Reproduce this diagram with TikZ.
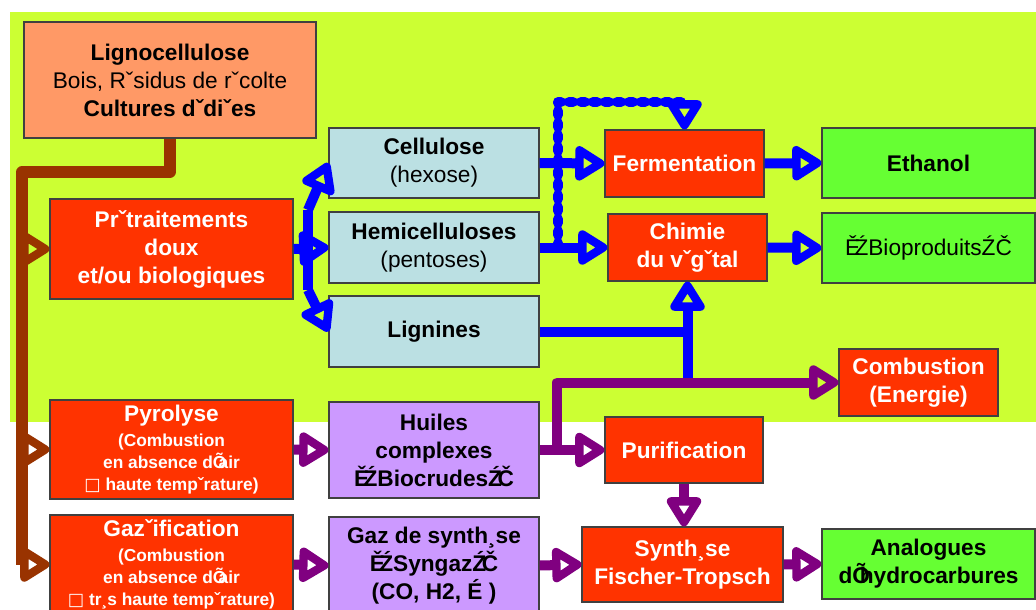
\documentclass[tikz,border=0pt]{standalone}
\usepackage{fontspec}
\setmainfont{Liberation Sans}
\newfontfamily\dejavu{DejaVu Sans}
\usetikzlibrary{arrows.meta}
\definecolor{bggreen}{HTML}{CCFF33}
\definecolor{lorange}{HTML}{FF9966}
\definecolor{boxred}{HTML}{FF3300}
\definecolor{lblue}{HTML}{BBE0E3}
\definecolor{lav}{HTML}{CC99FF}
\definecolor{boxgreen}{HTML}{66FF33}
\definecolor{lnblue}{HTML}{0000FF}
\definecolor{lnpurple}{HTML}{800080}
\definecolor{lnbrown}{HTML}{993300}
\newcommand\mybox[7]{\node[#6, minimum width={(#4-#2)*0.75pt}, minimum height={(#5-#3)*0.75pt}] (#1) at ({(#2+#4)/2},{(#3+#5)/2}) {#7};}
\newcommand\bigtxt{\fontsize{17}{21}\selectfont}
\tikzset{
  box/.style={draw=black!75, line width=0.9pt, inner sep=0pt, align=center, font=\fontsize{17}{21}\selectfont},
  redbox/.style={box, fill=boxred, text=white, font=\fontsize{17}{21}\selectfont\bfseries},
  smredbox/.style={box, fill=boxred, text=white, font=\fontsize{13}{16.5}\selectfont\bfseries},
  bluebox/.style={box, fill=lblue},
  lavbox/.style={box, fill=lav, font=\fontsize{17}{21}\selectfont\bfseries},
  grnbox/.style={box, fill=boxgreen},
  conn/.style={line width=7.5pt, line join=round},
  tipped/.style={-{Triangle[open, length=25pt, width=29pt, line width=7pt, round]}},
  blueln/.style={conn, draw=lnblue},
  purpln/.style={conn, draw=lnpurple},
  brownln/.style={conn, draw=lnbrown, line width=8.5pt},
  bluedot/.style={conn, draw=lnblue, line cap=round, dash pattern=on 3pt off 6pt}
}
\begin{document}
\begin{tikzpicture}[x=0.75pt,y=-0.75pt]
\useasboundingbox (0,0) rectangle (1036,610);
\fill[white] (0,0) rectangle (1036,610);
\fill[bggreen] (10,12) rectangle (1036,422);

\mybox{ligno}{24}{22}{316}{138}{box, fill=lorange}{\textbf{Lignocellulose}\\Bois, Rˇsidus de rˇcolte\\\textbf{Cultures dˇdiˇes}}
\mybox{pre}{50}{199}{293}{299}{redbox}{Prˇtraitements\\doux\\et/ou biologiques}
\mybox{cell}{329}{128}{539}{198}{bluebox}{\textbf{Cellulose}\\(hexose)}
\mybox{hemi}{329}{212}{539}{283}{bluebox}{\textbf{Hemicelluloses}\\(pentoses)}
\mybox{lign}{329}{296}{539}{367}{bluebox}{\textbf{Lignines}}
\mybox{ferm}{605}{130}{764}{197}{redbox}{Fermentation}
\mybox{chim}{608}{214}{767}{281}{redbox}{Chimie\\du vˇgˇtal}
\mybox{eth}{822}{128}{1035}{198}{grnbox}{\textbf{Ethanol}}
\mybox{bio}{822}{213}{1035}{283}{grnbox}{Ě\kern-0.25emŹBioproduitsŹČ}
\mybox{comb}{839}{349}{998}{416}{redbox}{Combustion\\(Energie)}
\mybox{pyro}{50}{400}{293}{499}{smredbox}{{\bigtxt Pyrolyse}\\[2pt](Combustion\\en absence dÕ\kern-0.45em air\\{\dejavu □} haute tempˇrature)}
\mybox{huil}{329}{402}{539}{498}{lavbox}{Huiles\\complexes\\Ě\kern-0.25emŹBiocrudesŹ\kern-0.2emČ}
\mybox{puri}{605}{417}{763}{483}{redbox}{Purification}
\mybox{gaz}{50}{515}{293}{614}{smredbox}{{\bigtxt Gazˇification}\\[2pt](Combustion\\en absence dÕ\kern-0.45em air\\{\dejavu □} tr¸s haute tempˇrature)}
\mybox{gsyn}{329}{517}{539}{614}{lavbox}{Gaz de synth¸se\\Ě\kern-0.25emŹSyngazŹ\kern-0.2emČ\\(CO, H2, É )}
\mybox{syn}{582}{527}{783}{602}{redbox}{Synth¸se\\Fischer-Tropsch}
\mybox{ana}{822}{529}{1035}{599}{grnbox}{\textbf{Analogues}\\\textbf{dÕ\kern-0.45em hydrocarbures}}

% brown tree
\coordinate (bt) at (170,172);
\coordinate (bl) at (22,172);
\draw[brownln] (ligno.south -| bt) -- (bt) -- (bl) -- (bl |- gaz.west);
\draw[brownln, tipped] (bl |- pre.west) -- (pre.west);
\draw[brownln, tipped] (bl |- pyro.west) -- (pyro.west);
\draw[brownln, tipped] (bl |- gaz.west) -- (gaz.west);

% blue: pretraitement fan
\coordinate (bvt) at (308,210);
\coordinate (bvb) at (308,290);
\draw[blueln] (bvt) -- (bvb);
\draw[blueln, tipped] (bvt) -- (cell.west);
\draw[blueln, tipped] (bvb) -- (lign.west);
\draw[blueln, tipped] (pre.east) -- (hemi.west);

% blue: dotted path to fermentation
\coordinate (dj) at (558,247);
\coordinate (dt) at (558,102);
\draw[bluedot, tipped] (dj) -- (dt) -- (ferm.north |- dt) -- (ferm.north);
\draw[blueln, tipped] (cell.east) -- (ferm.west);
\draw[blueln, tipped] (hemi.east) -- (chim.west);
\draw[blueln, tipped] (ferm.east) -- (eth.west);
\draw[blueln, tipped] (chim.east) -- (bio.west);
\draw[blueln] (lign.east) -- (lign.east -| chim.south);
\draw[blueln, tipped] (chim.south |- comb.west) -- (chim.south);

% purple
\coordinate (pj) at (557,450);
\draw[purpln, tipped] (pj) |- (comb.west);
\draw[purpln, tipped] (pyro.east) -- (huil.west);
\draw[purpln, tipped] (gaz.east) -- (gsyn.west);
\draw[purpln, tipped] (huil.east) -- (puri.west);
\draw[purpln, tipped] (puri.south) -- (puri.south |- syn.north);
\draw[purpln, tipped] (gsyn.east) -- (syn.west);
\draw[purpln, tipped] (syn.east) -- (ana.west);
\end{tikzpicture}
\end{document}
